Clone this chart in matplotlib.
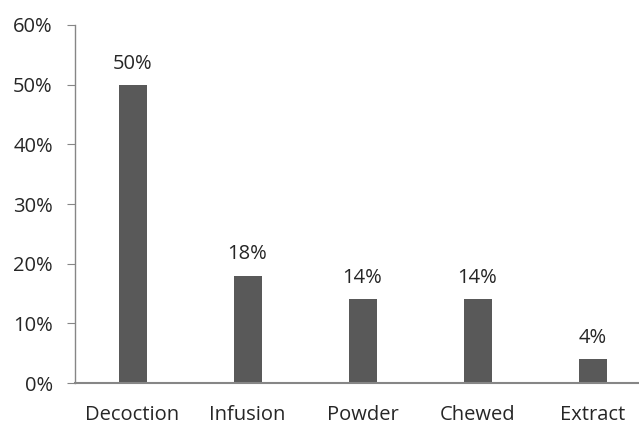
import matplotlib
matplotlib.use("Agg")
import matplotlib.pyplot as plt
from matplotlib.ticker import FuncFormatter

categories = ["Decoction", "Infusion", "Powder", "Chewed", "Extract"]
shares = [50, 18, 14, 14, 4]
y_ticks = [0, 10, 20, 30, 40, 50, 60]

plt.rcParams['font.family'] = ['Open Sans', 'DejaVu Sans']

W, H = 639, 423
fig = plt.figure(figsize=(W / 100, H / 100), dpi=100)
left, right, top, bottom = 75, 639, 25, 383
ax = fig.add_axes([left / W, (H - bottom) / H, (right - left) / W, (bottom - top) / H])

slot = 115.0
x = list(range(len(categories)))
bar_color = "#595959"
ax.bar(x, shares, width=28 / slot, color=bar_color, zorder=2)

fs = 14.5
for xi, v in zip(x, shares):
    ax.annotate(f"{v}%", (xi, v), xytext=(0, 8), textcoords="offset points",
                ha="center", va="bottom", fontsize=fs, color="#262626")

ax.set_xlim(-0.5, -0.5 + (right - left) / slot)
ax.set_ylim(0, 60)
ax.set_yticks(y_ticks)
ax.yaxis.set_major_formatter(FuncFormatter(lambda v, p: f"{v:.0f}%"))
ax.set_xticks(x)
ax.set_xticklabels(categories)

spine_color = "#868686"
for s in ["top", "right"]:
    ax.spines[s].set_visible(False)
ax.spines["left"].set_color(spine_color)
ax.spines["bottom"].set_color(spine_color)
ax.spines["left"].set_linewidth(1.0)
ax.spines["bottom"].set_linewidth(1.5)
ax.tick_params(axis="y", length=6, color=spine_color, labelsize=fs, labelcolor="#262626", pad=10)
ax.tick_params(axis="x", length=0, labelsize=fs, labelcolor="#262626", pad=15.5)

fig.savefig("out.png", dpi=100)
